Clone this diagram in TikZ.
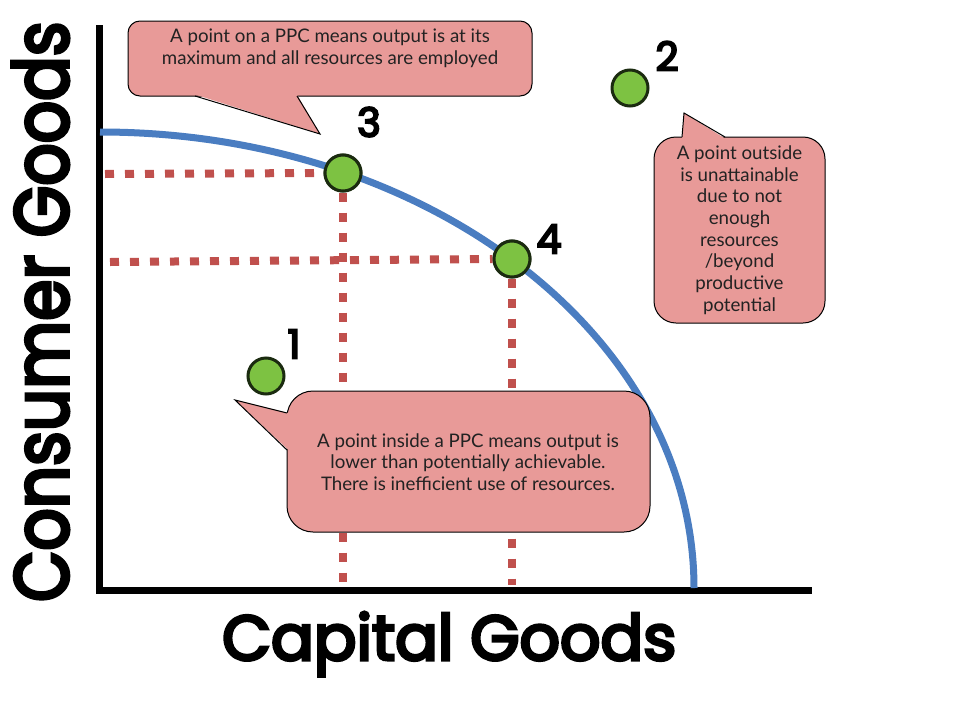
\documentclass[tikz,border=0pt]{standalone}
\usepackage{fontspec}
\setmainfont{Lato}
\newfontface\axisfont{Poppins}[FakeBold=5]
\usetikzlibrary{calc}
\definecolor{calloutpink}{HTML}{E89A98}
\definecolor{dotred}{HTML}{C0504D}
\definecolor{ppcblue}{HTML}{4A7DC1}
\definecolor{ptgreen}{HTML}{7DC242}
\definecolor{ptedge}{HTML}{1B2B10}
\definecolor{txtgray}{HTML}{222222}
\begin{document}
\begin{tikzpicture}[x=1pt,y=-1pt,
  axis/.style={line width=7pt, black},
  guide/.style={line width=8pt, dotred, dash pattern=on 9pt off 11pt},
  ppc/.style={line width=7pt, ppcblue},
  pt/.style={circle, fill=ptgreen, draw=ptedge, line width=3pt, minimum size=36pt, inner sep=0pt},
  ptlabel/.style={font=\axisfont\fontsize{40}{40}\selectfont, inner sep=0pt},
  box/.style={draw=black, line width=1pt, fill=calloutpink, rounded corners=#1, inner sep=0pt},
  boxtext/.style={font=\fontsize{18.7}{21.7}\selectfont, text=txtgray, align=center, inner sep=0pt},
  tailfill/.style={fill=calloutpink},
  tailline/.style={draw=black, line width=1pt, line join=miter},
]
\useasboundingbox (0,0) rectangle (960,720);
\fill[white] (0,0) rectangle (960,720);

% axes
\coordinate (ytop) at (99,25);
\coordinate (O) at (99,590);
\coordinate (xend) at (812,590);
\draw[axis] (ytop) -- (O) -- (xend);

% points
\node[pt] (p1) at (266,376) {};
\node[pt] (p2) at (630,88) {};
\node[pt] (p3) at (343,173) {};
\node[pt] (p4) at (512,259) {};

% guide lines
\coordinate (g3y) at (105,174);
\coordinate (g3x) at (343,582);
\coordinate (g4y) at (110,262);
\coordinate (g4x) at (512,585);
\draw[guide] (g3y) -- (p3.west);
\draw[guide] (p3.south) -- (g3x);
\draw[guide] (g4y) -- (p4.west);
\draw[guide] (p4.south) -- (g4x);

% PPC curve
\coordinate (ppctop) at (100,132);
\draw[ppc] (ppctop) arc[start angle=-90, end angle=0, x radius=594, y radius=456];

% redraw points on top
\node[pt] at (p3) {};
\node[pt] at (p4) {};

% point labels
\node[ptlabel] (l1) at (294,344) {1};
\node[ptlabel] (l2) at (667,56) {2};
\node[ptlabel] (l3) at (369,122) {3};
\node[ptlabel] (l4) at (549,239) {4};

% callout 1
\node[box=12pt, minimum width=404pt, minimum height=75pt] (c1) at (330,58.5) {};
\coordinate (c1a) at (195,96);
\coordinate (c1b) at (297,96);
\coordinate (c1tip) at (320,134);
\fill[tailfill] ($(c1a)+(0,-1.5)$) -- (c1tip) -- ($(c1b)+(0,-1.5)$) -- cycle;
\draw[tailline] (c1a) -- (c1tip) -- (c1b);
\node[boxtext] (c1t) at (330,48) {A point on a PPC means output is at its\\maximum and all resources are employed};

% callout 2
\node[box=22pt, minimum width=171pt, minimum height=186pt] (c2) at (739.5,230) {};
\coordinate (c2a) at (682,137);
\coordinate (c2b) at (725,137);
\coordinate (c2tip) at (684,113);
\fill[tailfill] ($(c2a)+(0,1.5)$) -- (c2tip) -- ($(c2b)+(0,1.5)$) -- cycle;
\draw[tailline] (c2a) -- (c2tip) -- (c2b);
\node[boxtext] (c2t) at (c2) {A point outside\\is unattainable\\due to not\\enough\\resources\\/beyond\\productive\\potential};

% callout 3
\node[box=26pt, minimum width=363pt, minimum height=141pt] (c3) at (468.5,461.5) {};
\coordinate (c3a) at (287,413);
\coordinate (c3b) at (287,450);
\coordinate (c3tip) at (235,400);
\fill[tailfill] ($(c3a)+(1.5,0)$) -- (c3tip) -- ($(c3b)+(1.5,0)$) -- cycle;
\draw[tailline] (c3a) -- (c3tip) -- (c3b);
\node[boxtext] (c3t) at (468,462) {A point inside a PPC means output is\\lower than potentially achievable.\\There is inefficient use of resources.};

% axis labels
\node[anchor=base west, inner sep=0pt] (xlab) at (222,660) {\resizebox{454pt}{48pt}{\axisfont Capital Goods}};
\node[anchor=base west, inner sep=0pt, rotate=90] (ylab) at (68,602) {\resizebox{580pt}{56pt}{\axisfont Consumer Goods}};
\end{tikzpicture}
\end{document}
